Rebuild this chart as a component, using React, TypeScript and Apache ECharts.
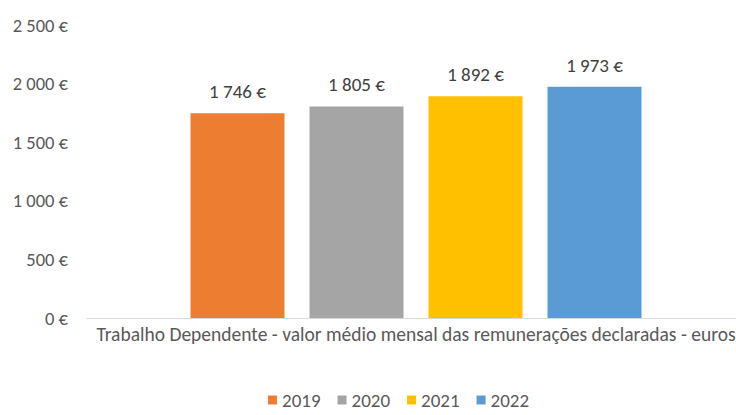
import React, { useEffect, useRef } from "react";
import * as echarts from "echarts";

const categories = ["Trabalho Dependente - valor médio mensal das remunerações declaradas - euros"];
const seriesNames = ["2019", "2020", "2021", "2022"];
const values2019 = [1746];
const values2020 = [1805];
const values2021 = [1892];
const values2022 = [1973];
const colors = ["#ED7D31", "#A5A5A5", "#FFC000", "#5B9BD5"];

const fmt = (v: number) => {
  const s = String(Math.round(v));
  return s.replace(/\B(?=(\d{3})+(?!\d))/g, " ") + " €";
};

export default function App() {
  const ref = useRef<HTMLDivElement>(null);
  useEffect(() => {
    if (!ref.current) return;
    const chart = echarts.init(ref.current, undefined, { renderer: "svg" });
    const font = "Carlito, 'Open Sans', sans-serif";
    const allValues = [values2019, values2020, values2021, values2022];
    chart.setOption({
      animation: false,
      textStyle: { fontFamily: font },
      grid: {
        left: 87,
        top: 25,
        width: 658,
        height: 293,
        containLabel: false,
        outerBoundsMode: "none",
      },
      legend: {
        data: seriesNames,
        bottom: 4,
        left: 268,
        padding: 0,
        itemWidth: 9,
        itemHeight: 9,
        itemGap: 17,
        icon: "rect",
        textStyle: { color: "#595959", fontSize: 19, lineHeight: 22, fontFamily: font },
      },
      xAxis: {
        type: "category",
        data: categories,
        axisLine: { show: true, lineStyle: { color: "#D9D9D9", width: 1 } },
        axisTick: { show: false },
        axisLabel: { color: "#595959", fontSize: 19.5, margin: 6, fontFamily: font },
      },
      yAxis: {
        type: "value",
        min: 0,
        max: 2500,
        interval: 500,
        axisLine: { show: false },
        axisTick: { show: false },
        splitLine: { show: false },
        axisLabel: {
          color: "#595959",
          fontSize: 18.5,
          margin: 19,
          fontFamily: font,
          formatter: (v: number) => fmt(v),
        },
      },
      series: seriesNames.map((name, i) => ({
        name,
        type: "bar",
        data: allValues[i],
        barWidth: 94,
        barGap: "26.6%",
        itemStyle: { color: colors[i] },
        label: {
          show: true,
          position: "top",
          distance: 12,
          color: "#404040",
          fontSize: 19,
          fontFamily: font,
          formatter: (p: any) => fmt(p.value),
        },
      })),
    });
    return () => chart.dispose();
  }, []);
  return (
    <div
      ref={ref}
      style={{ position: "fixed", left: 0, top: 0, width: 736, height: 415, background: "#fff" }}
    />
  );
}
